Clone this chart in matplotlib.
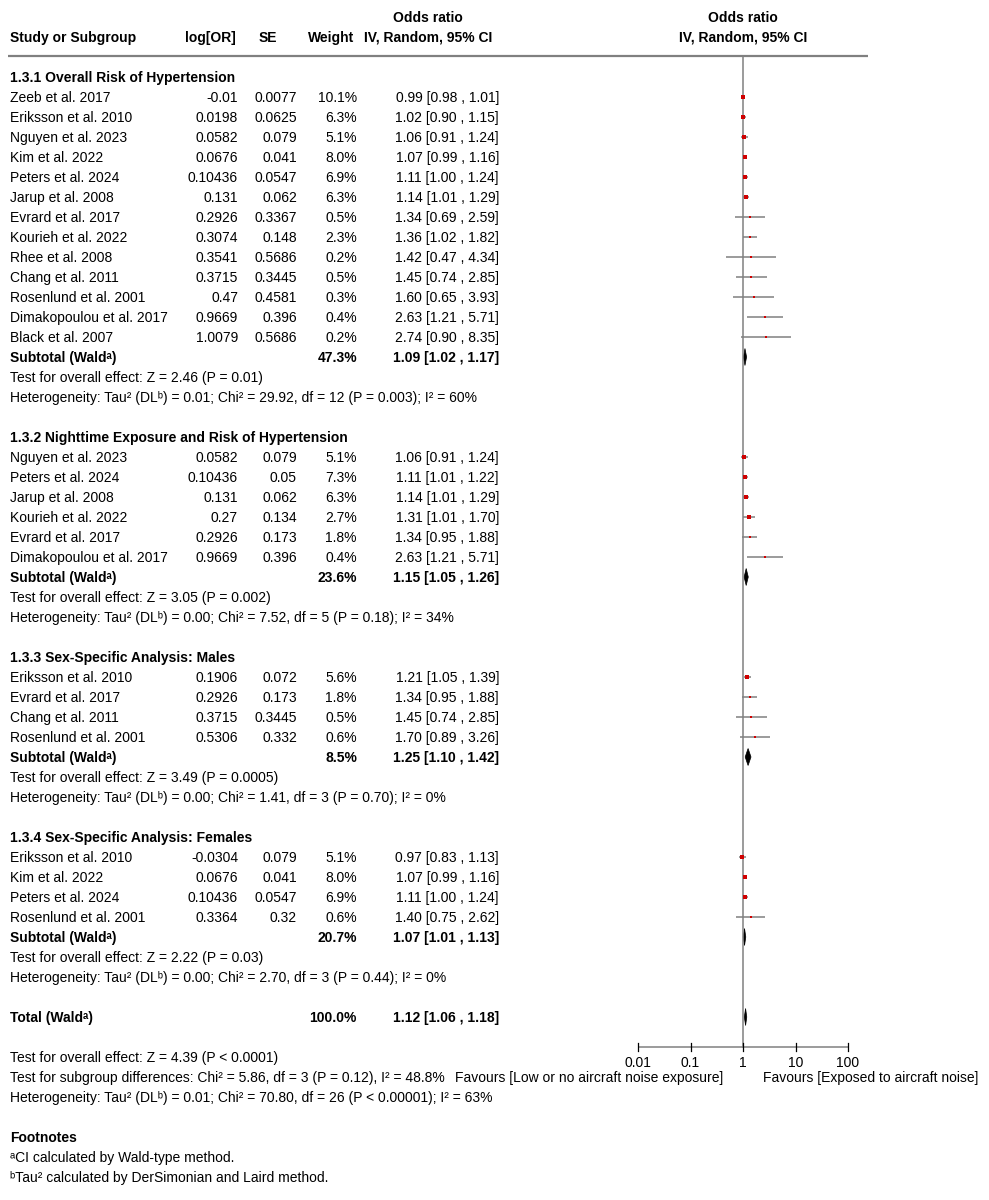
import matplotlib
matplotlib.use('Agg')
import matplotlib.pyplot as plt
from matplotlib.patches import Polygon

plt.rcParams['font.family'] = ['Liberation Sans', 'DejaVu Sans']

# ---------------- data ----------------
group_titles = [
    "1.3.1 Overall Risk of Hypertension",
    "1.3.2 Nighttime Exposure and Risk of Hypertension",
    "1.3.3 Sex-Specific Analysis: Males",
    "1.3.4 Sex-Specific Analysis: Females",
]

g1_names = ["Zeeb et al. 2017", "Eriksson et al. 2010", "Nguyen et al. 2023", "Kim et al. 2022",
            "Peters et al. 2024", "Jarup et al. 2008", "Evrard et al. 2017", "Kourieh et al. 2022",
            "Rhee et al. 2008", "Chang et al. 2011", "Rosenlund et al. 2001",
            "Dimakopoulou et al. 2017", "Black et al. 2007"]
g1_logor = ["-0.01", "0.0198", "0.0582", "0.0676", "0.10436", "0.131", "0.2926", "0.3074",
            "0.3541", "0.3715", "0.47", "0.9669", "1.0079"]
g1_se = ["0.0077", "0.0625", "0.079", "0.041", "0.0547", "0.062", "0.3367", "0.148",
         "0.5686", "0.3445", "0.4581", "0.396", "0.5686"]
g1_weight = [10.1, 6.3, 5.1, 8.0, 6.9, 6.3, 0.5, 2.3, 0.2, 0.5, 0.3, 0.4, 0.2]
g1_or = [0.99, 1.02, 1.06, 1.07, 1.11, 1.14, 1.34, 1.36, 1.42, 1.45, 1.60, 2.63, 2.74]
g1_lo = [0.98, 0.90, 0.91, 0.99, 1.00, 1.01, 0.69, 1.02, 0.47, 0.74, 0.65, 1.21, 0.90]
g1_hi = [1.01, 1.15, 1.24, 1.16, 1.24, 1.29, 2.59, 1.82, 4.34, 2.85, 3.93, 5.71, 8.35]

g2_names = ["Nguyen et al. 2023", "Peters et al. 2024", "Jarup et al. 2008", "Kourieh et al. 2022",
            "Evrard et al. 2017", "Dimakopoulou et al. 2017"]
g2_logor = ["0.0582", "0.10436", "0.131", "0.27", "0.2926", "0.9669"]
g2_se = ["0.079", "0.05", "0.062", "0.134", "0.173", "0.396"]
g2_weight = [5.1, 7.3, 6.3, 2.7, 1.8, 0.4]
g2_or = [1.06, 1.11, 1.14, 1.31, 1.34, 2.63]
g2_lo = [0.91, 1.01, 1.01, 1.01, 0.95, 1.21]
g2_hi = [1.24, 1.22, 1.29, 1.70, 1.88, 5.71]

g3_names = ["Eriksson et al. 2010", "Evrard et al. 2017", "Chang et al. 2011", "Rosenlund et al. 2001"]
g3_logor = ["0.1906", "0.2926", "0.3715", "0.5306"]
g3_se = ["0.072", "0.173", "0.3445", "0.332"]
g3_weight = [5.6, 1.8, 0.5, 0.6]
g3_or = [1.21, 1.34, 1.45, 1.70]
g3_lo = [1.05, 0.95, 0.74, 0.89]
g3_hi = [1.39, 1.88, 2.85, 3.26]

g4_names = ["Eriksson et al. 2010", "Kim et al. 2022", "Peters et al. 2024", "Rosenlund et al. 2001"]
g4_logor = ["-0.0304", "0.0676", "0.10436", "0.3364"]
g4_se = ["0.079", "0.041", "0.0547", "0.32"]
g4_weight = [5.1, 8.0, 6.9, 0.6]
g4_or = [0.97, 1.07, 1.11, 1.40]
g4_lo = [0.83, 0.99, 1.00, 0.75]
g4_hi = [1.13, 1.16, 1.24, 2.62]

sub_weight = [47.3, 23.6, 8.5, 20.7]
sub_or = [1.09, 1.15, 1.25, 1.07]
sub_lo = [1.02, 1.05, 1.10, 1.01]
sub_hi = [1.17, 1.26, 1.42, 1.13]
sub_tests = ["Test for overall effect: Z = 2.46 (P = 0.01)",
             "Test for overall effect: Z = 3.05 (P = 0.002)",
             "Test for overall effect: Z = 3.49 (P = 0.0005)",
             "Test for overall effect: Z = 2.22 (P = 0.03)"]
sub_het = ["Heterogeneity: Tau² (DLᵇ) = 0.01; Chi² = 29.92, df = 12 (P = 0.003); I² = 60%",
           "Heterogeneity: Tau² (DLᵇ) = 0.00; Chi² = 7.52, df = 5 (P = 0.18); I² = 34%",
           "Heterogeneity: Tau² (DLᵇ) = 0.00; Chi² = 1.41, df = 3 (P = 0.70); I² = 0%",
           "Heterogeneity: Tau² (DLᵇ) = 0.00; Chi² = 2.70, df = 3 (P = 0.44); I² = 0%"]

total_weight = 100.0
total_or, total_lo, total_hi = 1.12, 1.06, 1.18
total_lines = ["Test for overall effect: Z = 4.39 (P < 0.0001)",
               "Test for subgroup differences: Chi² = 5.86, df = 3 (P = 0.12), I² = 48.8%",
               "Heterogeneity: Tau² (DLᵇ) = 0.01; Chi² = 70.80, df = 26 (P < 0.00001); I² = 63%"]
footnotes = ["ᵃCI calculated by Wald-type method.",
             "ᵇTau² calculated by DerSimonian and Laird method."]

axis_ticks = [0.01, 0.1, 1, 10, 100]
axis_ticklabels = ["0.01", "0.1", "1", "10", "100"]
favours_left = "Favours [Low or no aircraft noise exposure]"
favours_right = "Favours [Exposed to aircraft noise]"

groups = [
    (g1_names, g1_logor, g1_se, g1_weight, g1_or, g1_lo, g1_hi),
    (g2_names, g2_logor, g2_se, g2_weight, g2_or, g2_lo, g2_hi),
    (g3_names, g3_logor, g3_se, g3_weight, g3_or, g3_lo, g3_hi),
    (g4_names, g4_logor, g4_se, g4_weight, g4_or, g4_lo, g4_hi),
]

# ---------------- figure ----------------
W, H = 989, 1200
fig = plt.figure(figsize=(W / 100, H / 100), dpi=100)
tax = fig.add_axes([0, 0, 1, 1])
tax.set_xlim(0, W)
tax.set_ylim(H, 0)
tax.axis('off')

fax = fig.add_axes([638 / W, 0, 210 / W, 1])
fax.set_xscale('log')
fax.set_xlim(0.01, 100)
fax.set_ylim(H, 0)
fax.axis('off')

FS = 10
GREY = '#808080'
RED = '#d00000'
X_NAME, X_LOG, X_SE, X_W, X_CI = 10, 238, 297, 357, 499


def t(x, y, s, ha='left', bold=False, **kw):
    tax.text(x, y + 5, s, ha=ha, va='baseline', fontsize=FS,
             fontweight='bold' if bold else 'normal', **kw)


# header
t(428, 17, "Odds ratio", ha='center', bold=True)
t(10, 37, "Study or Subgroup", bold=True)
t(210, 37, "log[OR]", ha='center', bold=True)
t(268, 37, "SE", ha='center', bold=True)
t(331, 37, "Weight", ha='center', bold=True)
t(428, 37, "IV, Random, 95% CI", ha='center', bold=True)
t(743, 17, "Odds ratio", ha='center', bold=True)
t(743, 37, "IV, Random, 95% CI", ha='center', bold=True)
tax.plot([8, 868], [56, 56], color=GREY, lw=1.6, solid_capstyle='butt')

AXIS_Y = 1047
fax.plot([1, 1], [56, AXIS_Y], color=GREY, lw=1.1, clip_on=False)


def diamond(est, lo, hi, y, h=8.5):
    fax.add_patch(Polygon([(lo, y), (est, y - h), (hi, y), (est, y + h)],
                          closed=True, facecolor='black', edgecolor='black',
                          lw=0.5, clip_on=False))


y = 77
for gi, (names, logor, se, wt, orv, lo, hi) in enumerate(groups):
    t(10, y, group_titles[gi], bold=True)
    y += 20
    for i in range(len(names)):
        t(X_NAME, y, names[i])
        t(X_LOG, y, logor[i], ha='right')
        t(X_SE, y, se[i], ha='right')
        t(X_W, y, f"{wt[i]:.1f}%", ha='right')
        t(X_CI, y, f"{orv[i]:.2f} [{lo[i]:.2f} , {hi[i]:.2f}]", ha='right')
        fax.plot([lo[i], hi[i]], [y, y], color=GREY, lw=1.1, clip_on=False,
                 solid_capstyle='butt')
        ms = (2.6 + 0.15 * wt[i]) * 0.72
        fax.plot([orv[i]], [y], marker='s', ms=ms, color=RED, mec=RED,
                 mew=0.0, clip_on=False)
        y += 20
    t(X_NAME, y, "Subtotal (Waldᵃ)", bold=True)
    t(X_W, y, f"{sub_weight[gi]:.1f}%", ha='right', bold=True)
    t(X_CI, y, f"{sub_or[gi]:.2f} [{sub_lo[gi]:.2f} , {sub_hi[gi]:.2f}]", ha='right', bold=True)
    diamond(sub_or[gi], sub_lo[gi], sub_hi[gi], y)
    y += 20
    t(X_NAME, y, sub_tests[gi])
    y += 20
    t(X_NAME, y, sub_het[gi])
    y += 40

# total
t(X_NAME, y, "Total (Waldᵃ)", bold=True)
t(X_W, y, f"{total_weight:.1f}%", ha='right', bold=True)
t(X_CI, y, f"{total_or:.2f} [{total_lo:.2f} , {total_hi:.2f}]", ha='right', bold=True)
diamond(total_or, total_lo, total_hi, y)
y += 40
for s in total_lines:
    t(X_NAME, y, s)
    y += 20
y += 20
t(X_NAME, y, "Footnotes", bold=True)
y += 20
for s in footnotes:
    t(X_NAME, y, s)
    y += 20

# forest axis
fax.plot([axis_ticks[0], axis_ticks[-1]], [AXIS_Y, AXIS_Y], color=GREY, lw=1.1,
         clip_on=False, solid_capstyle='butt')
for tk, lab in zip(axis_ticks, axis_ticklabels):
    fax.plot([tk, tk], [AXIS_Y - 4, AXIS_Y + 4], color='black', lw=0.9, clip_on=False)
    fax.text(tk, 1062 + 5, lab, ha='center', va='baseline', fontsize=FS)
t(723, 1077, favours_left, ha='right')
t(763, 1077, favours_right, ha='left')

fig.savefig('out.png', dpi=100)
